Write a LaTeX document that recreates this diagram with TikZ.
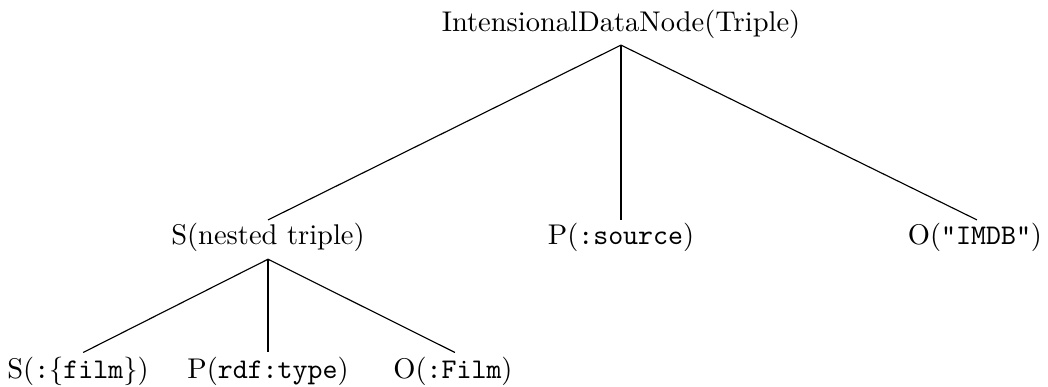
\documentclass[tikz,border=0pt]{standalone}
\begin{document}
\begin{tikzpicture}[x=0.3509pt,y=-0.3509pt,
  treenode/.style={anchor=base,inner sep=0pt,outer sep=0pt},
  edge/.style={draw=black,line width=0.4pt}]
\useasboundingbox (0,0) rectangle (1048,387);
% top level
\node[treenode] (root) at (621,32) {IntensionalDataNode(Triple)};
% second level
\node[treenode] (s) at (268,245) {S(nested triple)};
\node[treenode] (p) at (621,245) {P(\texttt{:source})};
\node[treenode] (o) at (975,245) {O(\texttt{"IMDB"})};
% third level, below the nested triple
\node[treenode] (ss) at (78,379) {S(\texttt{:}\{\texttt{film}\})};
\node[treenode] (sp) at (268,379) {P(\texttt{rdf:type})};
\node[treenode] (so) at (453,379) {O(\texttt{:Film})};
% edges
\draw[edge] ([yshift=-4.6pt]root.base) -- ([yshift=8.8pt]s.base);
\draw[edge] ([yshift=-4.6pt]root.base) -- ([yshift=8.8pt]p.base);
\draw[edge] ([yshift=-4.6pt]root.base) -- ([yshift=8.8pt,xshift=0.7pt]o.base);
\draw[edge] ([yshift=-5pt]s.base) -- ([yshift=9.3pt,xshift=1.8pt]ss.base);
\draw[edge] ([yshift=-5pt]s.base) -- ([yshift=9.3pt]sp.base);
\draw[edge] ([yshift=-5pt]s.base) -- ([yshift=9.3pt,xshift=0.7pt]so.base);
\end{tikzpicture}
\end{document}
